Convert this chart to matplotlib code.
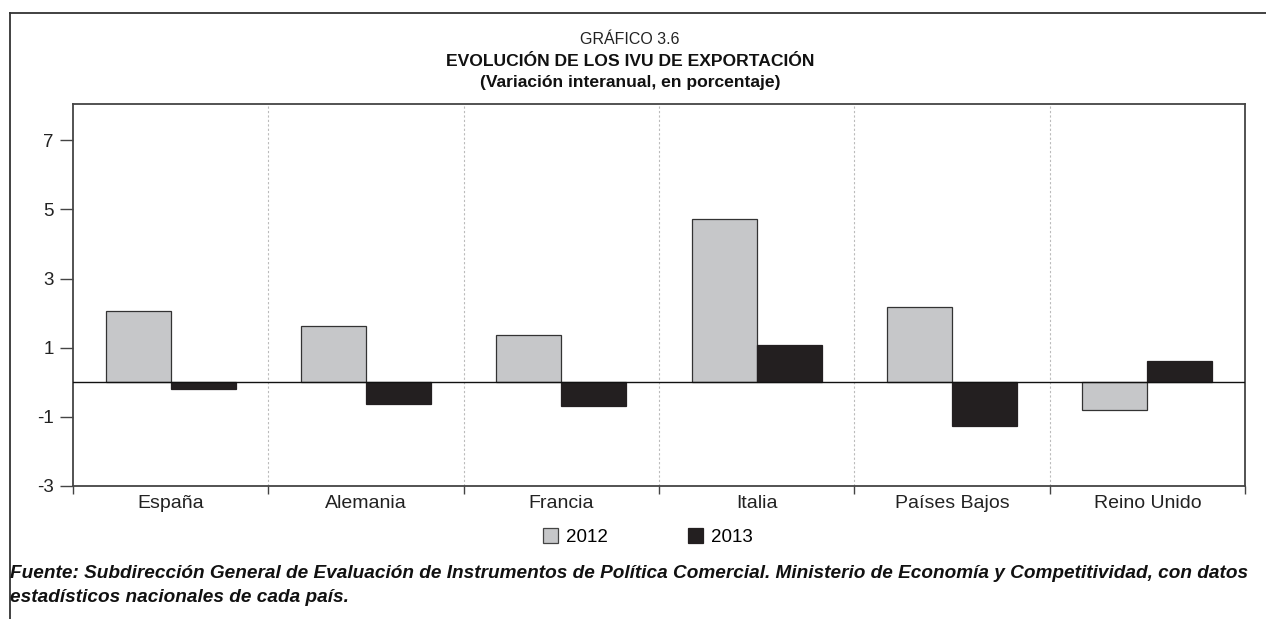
import matplotlib
matplotlib.use("Agg")
import matplotlib.pyplot as plt
import numpy as np
from matplotlib.lines import Line2D
from matplotlib.patches import Patch

plt.rcParams['font.family'] = ['Liberation Sans', 'DejaVu Sans']

categories = ["España", "Alemania", "Francia", "Italia", "Países Bajos", "Reino Unido"]
series_names = ["2012", "2013"]
values_2012 = [2.05, 1.62, 1.37, 4.73, 2.17, -0.81]
values_2013 = [-0.2, -0.63, -0.7, 1.07, -1.26, 0.62]
yticks = [-3, -1, 1, 3, 5, 7]

W, H = 1266, 619
fig = plt.figure(figsize=(W / 100, H / 100), dpi=100)

ax = fig.add_axes([73 / W, 1 - 486 / H, (1245 - 73) / W, (486 - 104) / H])

x = np.arange(len(categories))
bw = 1 / 3
c12 = "#c6c7c9"
c13 = "#231f20"
ax.bar(x - bw / 2, values_2012, width=bw, color=c12, edgecolor="#333333", linewidth=0.9, zorder=3)
ax.bar(x + bw / 2, values_2013, width=bw, color=c13, edgecolor="#231f20", linewidth=0.9, zorder=3)

ax.set_xlim(-0.5, len(categories) - 0.5)
ax.set_ylim(-3, 8.05)
ax.axhline(0, color="#111111", linewidth=1.0, zorder=4)

# boundaries
bounds = np.arange(-0.5, len(categories), 1.0)
for b in bounds[1:-1]:
    ax.axvline(b, color="#bbbbbb", linewidth=0.8, linestyle=(0, (2, 2)), zorder=1)

ax.set_yticks(yticks)
ax.set_yticklabels([str(v) for v in yticks], fontsize=13.5, color="#222222")
ax.tick_params(axis="y", direction="out", length=9.5, width=1.0, color="#444444", pad=4.5)

ax.set_xticks(bounds)
ax.set_xticklabels([""] * len(bounds))
ax.tick_params(axis="x", direction="out", length=5.5, width=1.0, color="#444444")
for i, c in enumerate(categories):
    ax.text(i, -3.5, c, ha="center", va="center", fontsize=14, color="#222222")

for s in ax.spines.values():
    s.set_color("#444444")
    s.set_linewidth(1.3)

# titles
fig.text(630 / W, 1 - 40 / H, "GRÁFICO 3.6", ha="center", va="center", fontsize=11.5, color="#222222")
fig.text(630 / W, 1 - 61 / H, "EVOLUCIÓN DE LOS IVU DE EXPORTACIÓN", ha="center", va="center",
         fontsize=12.6, fontweight="bold", color="#111111")
fig.text(630 / W, 1 - 82 / H, "(Variación interanual, en porcentaje)", ha="center", va="center",
         fontsize=12.6, fontweight="bold", color="#111111")

# legend
handles = [Patch(facecolor=c12, edgecolor="#444444", linewidth=0.9, label=series_names[0]),
           Patch(facecolor=c13, edgecolor=c13, linewidth=0.9, label=series_names[1])]
fig.legend(handles=handles, loc="center", bbox_to_anchor=(648 / W, 1 - 537 / H), ncol=2,
           frameon=False, fontsize=13.5, handlelength=0.8, handleheight=0.8,
           handletextpad=0.4, columnspacing=4.3)

# footer
fig.text(10 / W, 1 - 574 / H,
         "Fuente: Subdirección General de Evaluación de Instrumentos de Política Comercial. Ministerio de Economía y Competitividad, con datos",
         ha="left", va="center", fontsize=13.7, fontweight="bold", fontstyle="italic", color="#111111")
fig.text(10 / W, 1 - 597 / H, "estadísticos nacionales de cada país.",
         ha="left", va="center", fontsize=13.7, fontweight="bold", fontstyle="italic", color="#111111")

# outer frame (top and left)
fig.add_artist(Line2D([10 / W, 1.0], [1 - 13 / H, 1 - 13 / H], transform=fig.transFigure,
                      color="#333333", linewidth=1.3))
fig.add_artist(Line2D([10 / W, 10 / W], [1 - 13 / H, 0.0], transform=fig.transFigure,
                      color="#333333", linewidth=1.3))

fig.savefig("out.png", dpi=100)
